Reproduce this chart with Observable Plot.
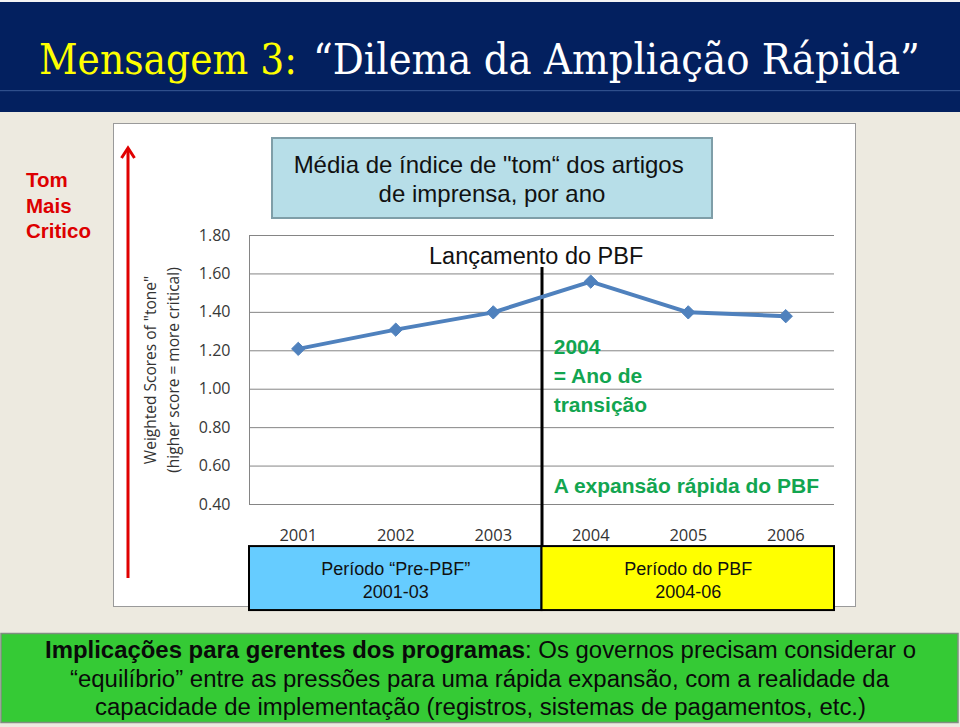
<!DOCTYPE html>
<html>
<head>
<meta charset="utf-8">
<script src="https://cdn.jsdelivr.net/npm/d3@7"></script>
<script src="https://cdn.jsdelivr.net/npm/@observablehq/plot@0.6"></script>
<style>
  html, body { margin: 0; padding: 0; }
  body { width: 960px; height: 727px; position: relative; overflow: hidden; background: #EDEAE0; font-family: "Liberation Sans", Arial, sans-serif; }
  #bg { position: absolute; left: 0; top: 0; }
  #chart { position: absolute; left: 113px; top: 123px; }
  #chart svg { overflow: visible; }
</style>
</head>
<body>
<svg id="bg" width="960" height="727" xmlns="http://www.w3.org/2000/svg">
  <rect x="0" y="0" width="960" height="2" fill="#f4f4f4"/>
  <rect x="0" y="2" width="960" height="110" fill="#03205F"/>
  <rect x="0" y="90" width="960" height="1.2" fill="#2F4F8C"/>
  <g id="t1" transform="translate(39,74)"><text x="0" y="0" fill="#FFFF00" font-family="DejaVu Serif, Liberation Serif, serif" font-size="43" data-target="258">Mensagem 3:</text></g>
  <g id="t2" transform="translate(313,74)"><text x="0" y="0" fill="#FFFFFF" font-family="DejaVu Serif, Liberation Serif, serif" font-size="43" data-target="607">“Dilema da Ampliação Rápida”</text></g>

  <text font-family="Liberation Sans, Arial, sans-serif" font-weight="bold" font-size="20.5" fill="#DD0000">
    <tspan x="26" y="187">Tom</tspan>
    <tspan x="26" y="213">Mais</tspan>
    <tspan x="26" y="238">Critico</tspan>
  </text>

  <rect x="113.5" y="123.5" width="742" height="483" fill="#FFFFFF" stroke="#9a9a9a" stroke-width="1"/>

  <line x1="128" y1="578" x2="128" y2="149" stroke="#E00000" stroke-width="3"/>
  <polyline points="121.5,158 128,148 134.5,158" fill="none" stroke="#E00000" stroke-width="3" stroke-linejoin="miter"/>

  <rect x="272" y="138" width="440" height="80" fill="#B7DEE8" stroke="#7F9EA8" stroke-width="2"/>
  <text font-family="Liberation Sans, Arial, sans-serif" font-size="24" fill="#111" text-anchor="middle">
    <tspan x="492" y="173">Média de índice de "tom“ dos artigos</tspan>
    <tspan x="492" y="202">de imprensa, por ano</tspan>
  </text>

  <rect x="1" y="633.5" width="957" height="89" fill="#35CA35" stroke="#7f8f80" stroke-width="1.5"/>
  <text font-family="Liberation Sans Narrow, Liberation Sans, Arial, sans-serif" font-size="23" fill="#0a0a0a">
    <tspan x="45" y="658" textLength="871" lengthAdjust="spacingAndGlyphs"><tspan font-weight="bold">Implicações para gerentes dos programas</tspan>: Os governos precisam considerar o</tspan>
  </text>
  <text x="70" y="686.5" font-family="Liberation Sans Narrow, Liberation Sans, Arial, sans-serif" font-size="23" fill="#0a0a0a" textLength="819" lengthAdjust="spacingAndGlyphs">“equilíbrio” entre as pressões para uma rápida expansão, com a realidade da</text>
  <text x="95" y="715" font-family="Liberation Sans Narrow, Liberation Sans, Arial, sans-serif" font-size="23" fill="#0a0a0a" textLength="771" lengthAdjust="spacingAndGlyphs">capacidade de implementação (registros, sistemas de pagamentos, etc.)</text>
</svg>
<div id="chart"></div>
<script>
// ---- data ----
const years = [2001, 2002, 2003, 2004, 2005, 2006];
const scores = [1.21, 1.31, 1.40, 1.56, 1.40, 1.38];
const yTicks = [0.4, 0.6, 0.8, 1.0, 1.2, 1.4, 1.6, 1.8];
const periodLabels = ["Período “Pre-PBF”", "Período do PBF"];
const periodRanges = ["2001-03", "2004-06"];
const periodStart = [2001, 2004];
const periodEnd = [2003, 2006];
const periodColors = ["#66CCFF", "#FFFF00"];
const launchLabel = "Lançamento do PBF";
const transitionNote = "2004\n= Ano de\ntransição";
const expansionNote = "A expansão rápida do PBF";
const yTitle = "Weighted Scores of \"tone\"\n(higher score = more critical)";

// fit the condensed title glyphs to their widths
for (const id of ["t1", "t2"]) {
  const g = document.getElementById(id);
  const t = g.querySelector("text");
  const len = t.getComputedTextLength();
  const target = +t.getAttribute("data-target");
  if (len > 0) g.setAttribute("transform", g.getAttribute("transform") + ` scale(${target / len},1)`);
}

const data = years.map((year, i) => ({year, score: scores[i]}));
const periods = periodLabels.map((label, i) => ({
  label, range: periodRanges[i],
  x1: periodStart[i] - 0.5, x2: periodEnd[i] + 0.5, fill: periodColors[i]
}));
const xDomain = [years[0] - 0.5, years[years.length - 1] + 0.5];
const launchX = (periodEnd[0] + periodStart[1]) / 2;
const green = "#12A550";
const calibriLike = "Open Sans, Lato, sans-serif";

const chart = Plot.plot({
  width: 743,
  height: 490,
  marginLeft: 136,
  marginRight: 22,
  marginTop: 112,
  marginBottom: 109,
  style: {background: "transparent", overflow: "visible", fontFamily: calibriLike},
  x: {domain: xDomain},
  y: {domain: [yTicks[0], yTicks[yTicks.length - 1]]},
  color: {type: "identity"},
  marks: [
    Plot.gridY(yTicks, {stroke: "#858585", strokeOpacity: 1, strokeWidth: 1}),
    Plot.ruleX([xDomain[0]], {y1: yTicks[0], y2: yTicks[yTicks.length - 1], stroke: "#858585", strokeWidth: 1}),
    Plot.axisY(yTicks, {tickSize: 0, tickPadding: 19, tickFormat: d3.format(".2f"), fontSize: 16, label: null, color: "#383838", fontFamily: calibriLike}),
    Plot.axisX(years, {tickSize: 0, tickPadding: 25, tickFormat: d => String(d), fontSize: 16.5, label: null, color: "#333", fontFamily: calibriLike}),
    Plot.text([yTitle], {frameAnchor: "left", textAnchor: "middle", dx: -89, rotate: -90, text: d => d, fontSize: 15.5, lineHeight: 1.45, fill: "#333", fontFamily: calibriLike}),
    Plot.rect(periods, {x1: "x1", x2: "x2", y1: 0.181, y2: -0.152, fill: "fill", stroke: "#000", strokeWidth: 2}),
    Plot.text(periods, {x: d => (d.x1 + d.x2) / 2, y: 0.012, text: d => d.label + "\n" + d.range, fontSize: 18, lineHeight: 1.28, fill: "#111", fontFamily: "Liberation Sans, Arial, sans-serif"}),
    Plot.ruleX([launchX], {y1: 1.633, y2: 0.181, stroke: "#000", strokeWidth: 3}),
    Plot.text([launchLabel], {x: launchX - 0.06, y: 1.736, text: d => d, lineAnchor: "top", fontSize: 23.5, fill: "#111", fontFamily: "Liberation Sans, Arial, sans-serif"}),
    Plot.text([transitionNote], {x: launchX + 0.12, y: 1.288, text: d => d, textAnchor: "start", lineAnchor: "top", fontSize: 21, fontWeight: "bold", lineHeight: 1.38, fill: green, fontFamily: "Liberation Sans, Arial, sans-serif"}),
    Plot.text([expansionNote], {x: launchX + 0.12, y: 0.540, text: d => d, textAnchor: "start", lineAnchor: "top", fontSize: 21, fontWeight: "bold", fill: green, fontFamily: "Liberation Sans, Arial, sans-serif"}),
    Plot.line(data, {x: "year", y: "score", stroke: "#4F81BD", strokeWidth: 4}),
    Plot.dot(data, {x: "year", y: "score", symbol: "diamond2", r: 6, fill: "#4F81BD", stroke: "#4F81BD", strokeWidth: 1})
  ]
});
document.getElementById("chart").appendChild(chart);
</script>
</body>
</html>
